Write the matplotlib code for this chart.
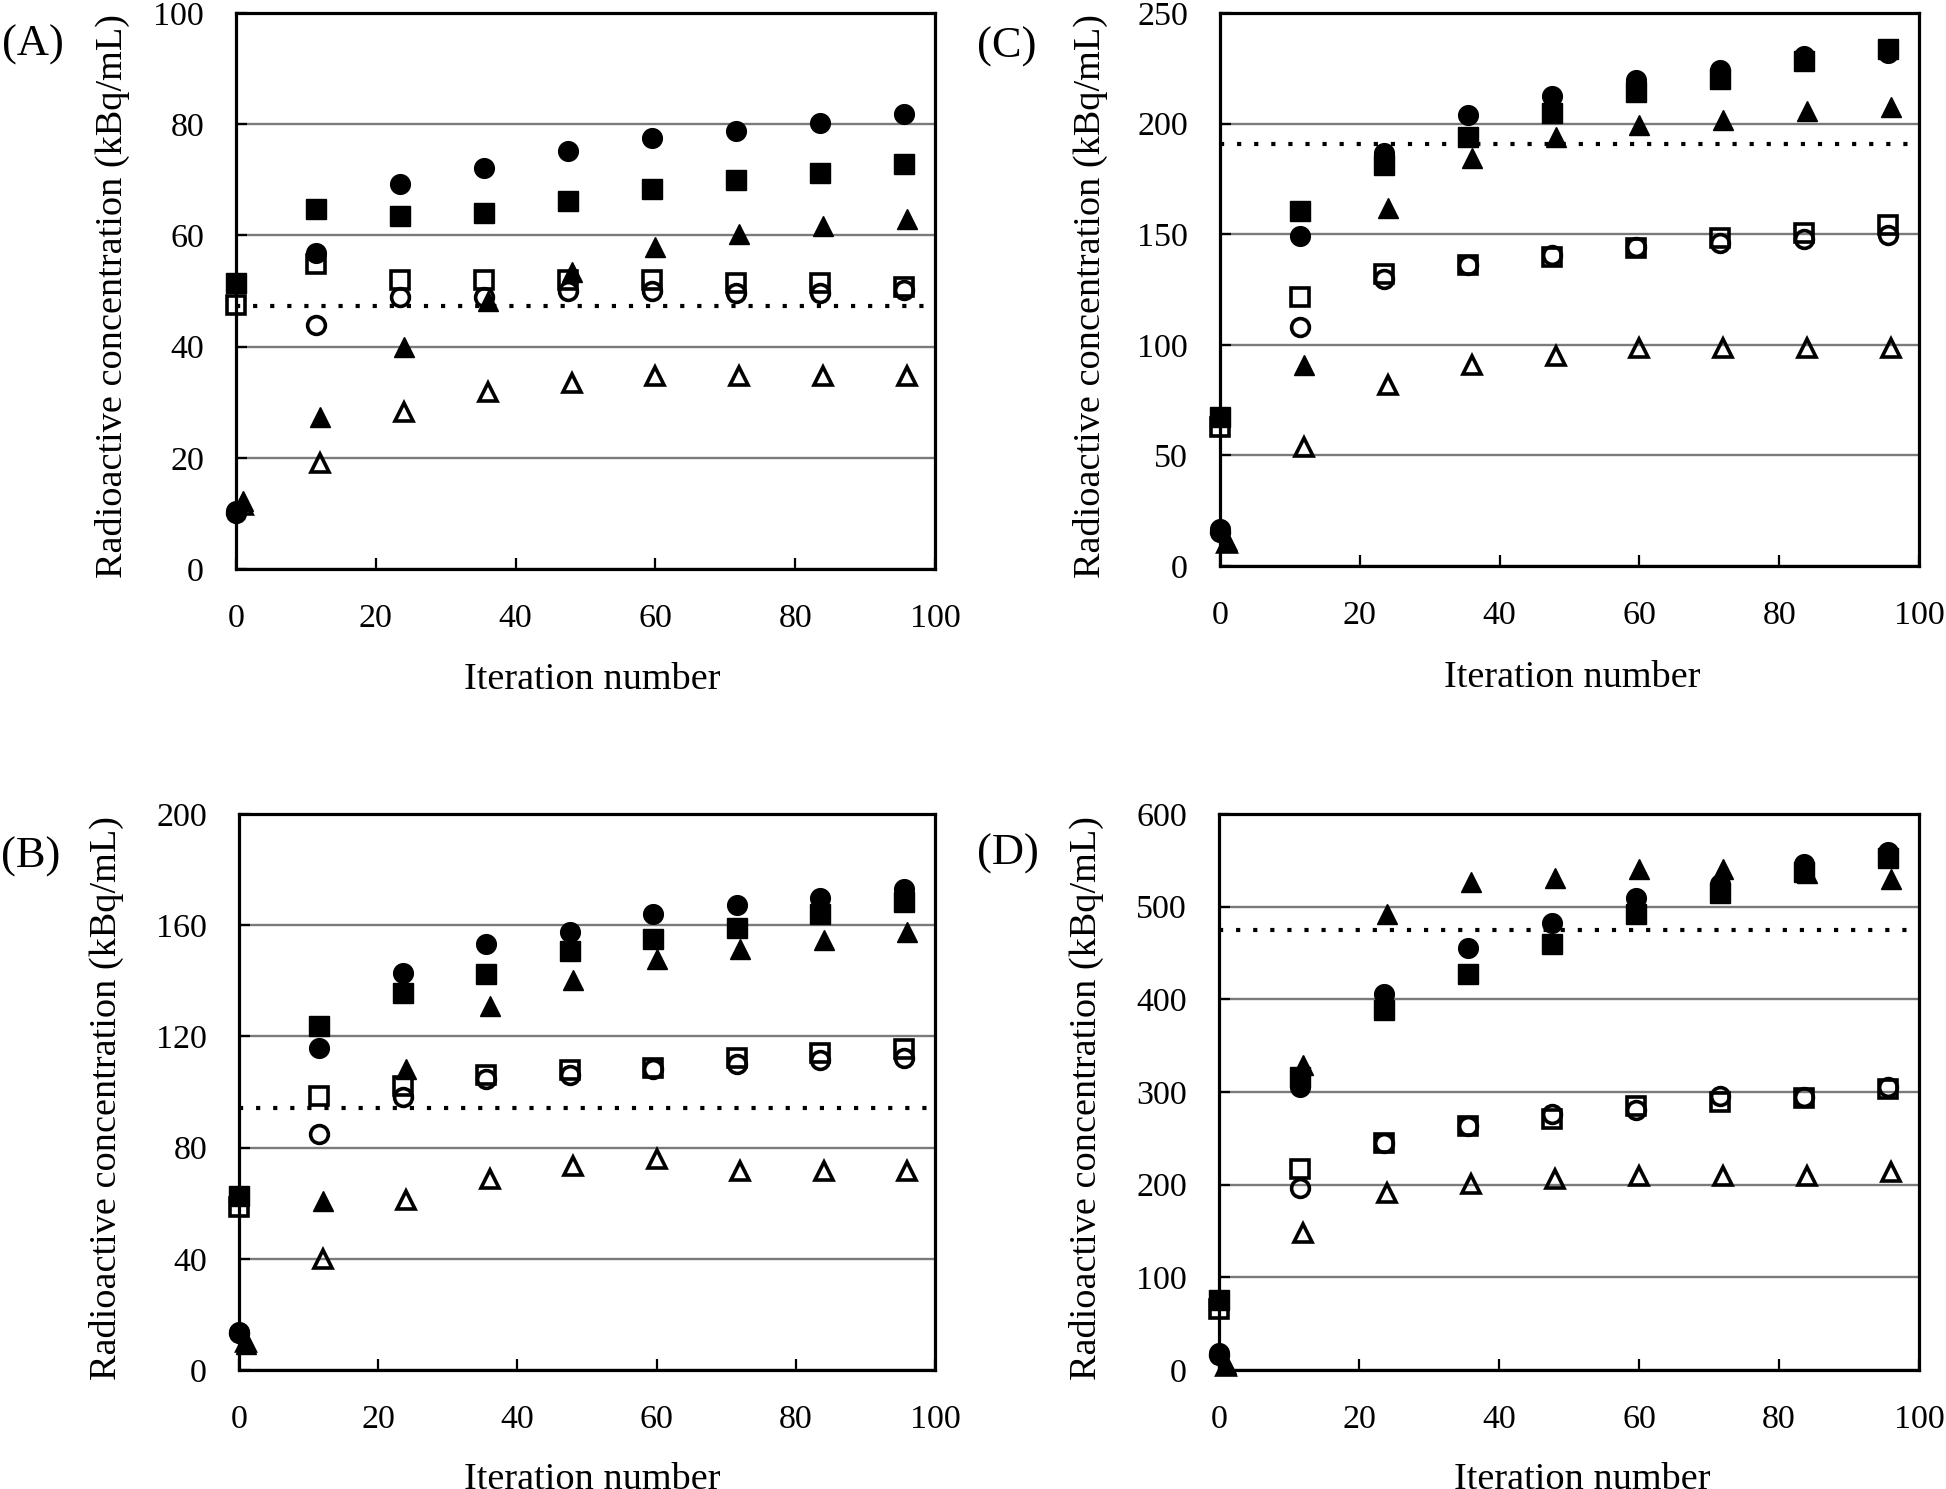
import numpy as np
import matplotlib
matplotlib.use("Agg")
import matplotlib.pyplot as plt

plt.rcParams['font.family'] = ['Liberation Serif', 'DejaVu Serif']

# iteration numbers (squares/circles sit slightly left of triangles)
iter_sq = [0, 11.5, 23.5, 35.5, 47.5, 59.5, 71.5, 83.5, 95.5]
iter_tri = [1, 12, 24, 36, 48, 60, 72, 84, 96]

# (A)
A_fill_circle = [10.5, 56.8, 69.2, 72.2, 75.2, 77.5, 78.8, 80.3, 81.8]
A_fill_square = [51.4, 64.7, 63.4, 64.0, 66.2, 68.3, 70.0, 71.3, 72.9]
A_fill_tri = [12.2, 27.4, 40.0, 48.2, 53.5, 58.0, 60.2, 61.7, 63.0]
A_open_square = [47.5, 54.9, 52.0, 52.0, 52.0, 52.0, 51.5, 51.5, 50.8]
A_open_circle = [10.1, 43.8, 49.0, 49.0, 50.0, 50.0, 49.7, 49.7, 50.2]
A_open_tri = [11.5, 19.1, 28.3, 31.9, 33.4, 34.8, 34.8, 34.8, 34.8]
A_ref = 47.3

# (B)
B_fill_circle = [13.6, 116.0, 142.9, 153.1, 157.7, 163.9, 167.1, 169.8, 173.1]
B_fill_square = [62.7, 123.8, 135.5, 142.4, 150.6, 155.2, 159.1, 164.2, 168.5]
B_fill_tri = [9.5, 60.7, 108.3, 131.0, 140.3, 148.0, 151.4, 154.8, 157.4]
B_open_square = [58.5, 98.6, 102.3, 106.2, 107.9, 108.8, 112.2, 113.9, 115.6]
B_open_circle = [13.3, 84.9, 98.2, 104.5, 106.2, 108.4, 110.1, 111.5, 112.2]
B_open_tri = [10.0, 40.0, 61.0, 68.7, 73.3, 75.9, 71.6, 71.6, 71.6]
B_ref = 94.3

# (C)
C_fill_circle = [16.8, 149.0, 186.6, 203.8, 212.4, 219.5, 224.2, 230.7, 232.0]
C_fill_square = [67.3, 160.4, 181.2, 194.1, 204.9, 214.5, 220.3, 228.5, 233.9]
C_fill_tri = [11.4, 91.0, 162.0, 184.4, 194.0, 199.5, 201.6, 205.5, 207.4]
C_open_square = [63.0, 121.5, 131.8, 136.0, 139.7, 143.6, 148.3, 150.5, 154.3]
C_open_circle = [15.3, 108.0, 129.6, 136.0, 140.4, 144.0, 146.2, 147.9, 149.6]
C_open_tri = [10.3, 53.7, 81.9, 91.0, 94.8, 98.5, 98.5, 98.5, 98.5]
C_ref = 190.9

# (D)
D_fill_circle = [18.4, 304.9, 405.6, 455.8, 482.4, 509.0, 524.8, 546.3, 559.1]
D_fill_square = [75.7, 316.0, 388.7, 427.6, 459.3, 492.6, 514.6, 537.0, 553.0]
D_fill_tri = [6.6, 329.0, 491.6, 526.9, 531.0, 540.2, 540.2, 536.0, 530.0]
D_open_square = [65.5, 216.4, 245.5, 263.4, 271.1, 285.4, 289.5, 293.1, 303.3]
D_open_circle = [16.0, 196.0, 245.5, 263.4, 276.2, 280.3, 295.7, 294.6, 304.9]
D_open_tri = [4.0, 148.3, 190.8, 201.0, 206.1, 209.7, 209.7, 209.7, 213.8]
D_ref = 474.7

W, H = 1946, 1489
fig = plt.figure(figsize=(W / 100, H / 100), dpi=100)


def px_axes(left, top, right, bottom):
    return fig.add_axes([left / W, 1 - bottom / H, (right - left) / W, (bottom - top) / H])


def draw_panel(ax, series, ref, ymax, ystep):
    fc, fs, ft, os_, oc, ot = series
    kw_open = dict(ls='none', mfc='none', mec='black', mew=2.6, ms=12.8, clip_on=False, zorder=3)
    kw_fill = dict(ls='none', color='black', mew=1, ms=14.2, clip_on=False, zorder=4)
    ax.plot(iter_tri, ot, marker='^', **kw_open)
    ax.plot(iter_sq, oc, marker='o', **kw_open)
    ax.plot(iter_sq, os_, marker='s', **kw_open)
    ax.plot(iter_tri, ft, marker='^', **kw_fill)
    ax.plot(iter_sq, fs, marker='s', **kw_fill)
    ax.plot(iter_sq, fc, marker='o', **kw_fill)
    ax.plot([0, 100], [ref, ref], color='black', lw=3, ls=(0, (1, 3.1)),
            dash_capstyle='butt', zorder=2)

    ax.set_xlim(0, 100)
    ax.set_ylim(0, ymax)
    ax.set_xticks(np.arange(0, 101, 20))
    ax.set_yticks(np.arange(0, ymax + 1, ystep))
    ax.grid(axis='y', color='#7a7a7a', lw=1.7, zorder=1)
    ax.set_axisbelow(True)
    for s in ax.spines.values():
        s.set_linewidth(2.3)
    ax.tick_params(direction='in', length=8, width=1.6, labelsize=24.5)
    ax.tick_params(axis='x', pad=25)
    ax.tick_params(axis='y', pad=23)


panels = [
    ((236, 13, 935, 569), (A_fill_circle, A_fill_square, A_fill_tri, A_open_square, A_open_circle, A_open_tri), A_ref, 100, 20,
     '(A)', (33, 45), 112, 296, (592, 680)),
    ((1220, 13, 1919, 566), (C_fill_circle, C_fill_square, C_fill_tri, C_open_square, C_open_circle, C_open_tri), C_ref, 250, 50,
     '(C)', (1007, 47), 1090, 296, (1572, 678)),
    ((239, 814, 935, 1370), (B_fill_circle, B_fill_square, B_fill_tri, B_open_square, B_open_circle, B_open_tri), B_ref, 200, 40,
     '(B)', (31, 857), 106, 1098, (592, 1480)),
    ((1219, 814, 1919, 1370), (D_fill_circle, D_fill_square, D_fill_tri, D_open_square, D_open_circle, D_open_tri), D_ref, 600, 100,
     '(D)', (1008, 854), 1086, 1098, (1582, 1480)),
]

for box, series, ref, ymax, ystep, tag, tagpos, ylx, yly, xlpos in panels:
    ax = px_axes(*box)
    draw_panel(ax, series, ref, ymax, ystep)
    fig.text(tagpos[0] / W, 1 - tagpos[1] / H, tag, fontsize=32, ha='center', va='center')
    fig.text(ylx / W, 1 - yly / H, 'Radioactive concentration (kBq/mL)', fontsize=27.5,
             rotation=90, ha='center', va='center')
    fig.text(xlpos[0] / W, 1 - xlpos[1] / H, 'Iteration number', fontsize=27.5, ha='center', va='center')

fig.savefig('out.png', dpi=100)
